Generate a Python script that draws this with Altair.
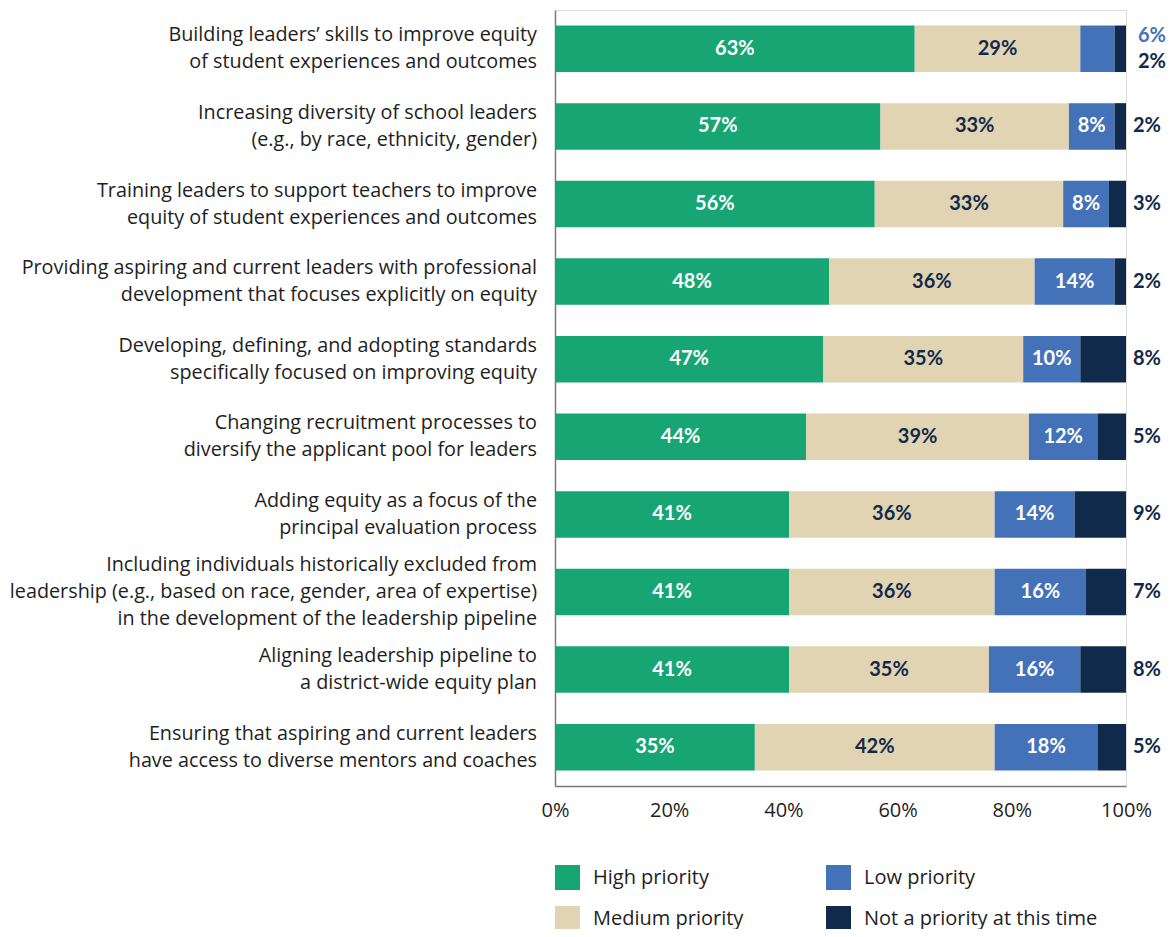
import altair as alt
import pandas as pd

NB = "\u00a0"
categories = [
    "Building leaders’ skills to improve equity|of student experiences and outcomes" + NB,
    "Increasing diversity of school leaders|(e.g., by race, ethnicity, gender)",
    "Training leaders to support teachers to improve|equity of student experiences and outcomes",
    "Providing aspiring and current leaders with professional|development that focuses explicitly on equity",
    "Developing, defining, and adopting standards|specifically focused on improving equity",
    "Changing recruitment processes to|diversify the applicant pool for leaders",
    "Adding equity as a focus of the|principal evaluation process" + NB,
    "Including individuals historically excluded from|leadership (e.g., based on race, gender, area of expertise)|in the development of the leadership pipeline",
    "Aligning leadership pipeline to|a district-wide equity plan",
    "Ensuring that aspiring and current leaders|have access to diverse mentors and coaches",
]
series = ["High priority", "Medium priority", "Low priority", "Not a priority at this time"]
high = [63, 57, 56, 48, 47, 44, 41, 41, 41, 35]
medium = [29, 33, 33, 36, 35, 39, 36, 36, 35, 42]
low = [6, 8, 8, 14, 10, 12, 14, 16, 16, 18]
notp = [2, 2, 3, 2, 8, 5, 9, 7, 8, 5]
colors = ["#17A673", "#E0D4B3", "#4472B8", "#0F2A4A"]
label_colors = ["#FFFFFF", "#13294B", "#FFFFFF", "#13294B"]

rows = []
for i, cat in enumerate(categories):
    vals = [high[i], medium[i], low[i], notp[i]]
    start = 0
    for j, s in enumerate(series):
        v = vals[j]
        rows.append({
            "cat": cat, "series": s, "order": j, "value": v,
            "start": start, "end": start + v, "mid": start + v / 2,
            "label": f"{v}%", "lcolor": label_colors[j], "row": i,
        })
        start += v
df = pd.DataFrame(rows)

cat_df = pd.DataFrame({"cat": categories,
                       "nlines": [c.count("|") + 1 for c in categories]})

FONT = "Open Sans"
VFONT = "Lato"
TXT = "#1E1E1E"
x_scale = alt.Scale(domain=[0, 100], nice=False, zero=True)
y_enc = alt.Y("cat:N", sort=categories,
              scale=alt.Scale(paddingInner=0.4, paddingOuter=0.2),
              axis=alt.Axis(title=None, ticks=False, labels=False,
                            domainColor="#7A7A7A", domainWidth=1.5))
y_plain = alt.Y("cat:N", sort=categories)

legend_domain = ["High priority", "Low priority", "Medium priority", "Not a priority at this time"]
legend_range = [colors[0], colors[2], colors[1], colors[3]]

base = alt.Chart(df)

bars = base.mark_bar(size=46.5).encode(
    x=alt.X("start:Q", scale=x_scale,
            axis=alt.Axis(title=None, labelExpr="datum.value + '%'",
                          values=[0, 20, 40, 60, 80, 100], ticks=False, grid=False,
                          labelFlush=False, labelFontSize=20, labelFont=FONT,
                          labelColor=TXT, labelPadding=14,
                          domainColor="#7A7A7A", domainWidth=1.5)),
    x2="end:Q",
    y=y_enc,
    color=alt.Color("series:N", scale=alt.Scale(domain=legend_domain, range=legend_range),
                    legend=alt.Legend(title=None, orient="none", legendX=0, legendY=855,
                                      columns=2, direction="horizontal",
                                      symbolType="square", symbolSize=625,
                                      symbolStrokeWidth=0, symbolOpacity=1,
                                      labelFontSize=20, labelFont=FONT, labelColor=TXT,
                                      labelOffset=13, labelLimit=400,
                                      rowPadding=16, columnPadding=82, padding=0)),
    order="order:Q",
)

inside = base.transform_filter(
    "datum.order < 2 || (datum.order == 2 && datum.row > 0)"
).mark_text(fontSize=20, fontWeight="bold", font=VFONT, baseline="middle", align="center").encode(
    x=alt.X("mid:Q", scale=x_scale),
    y=y_plain,
    text="label:N",
    color=alt.Color("lcolor:N", scale=None),
)

outside_navy = base.transform_filter("datum.order == 3 && datum.row > 0").mark_text(
    fontSize=20, fontWeight="bold", font=VFONT, baseline="middle", align="center", dx=21,
    color="#13294B").encode(x=alt.X("end:Q", scale=x_scale), y=y_plain, text="label:N")

outside_navy_first = base.transform_filter("datum.order == 3 && datum.row == 0").mark_text(
    fontSize=20, fontWeight="bold", font=VFONT, baseline="middle", align="center", dx=26, dy=13,
    color="#13294B").encode(x=alt.X("end:Q", scale=x_scale), y=y_plain, text="label:N")

outside_low_first = base.transform_filter("datum.order == 2 && datum.row == 0").transform_calculate(
    xr="100").mark_text(
    fontSize=20, fontWeight="bold", font=VFONT, baseline="middle", align="center", dx=26, dy=-13,
    color="#4472B8").encode(x=alt.X("xr:Q", scale=x_scale), y=y_plain, text="label:N")

ylab_layers = []
for n in [1, 2, 3]:
    ylab_layers.append(
        alt.Chart(cat_df).transform_filter(f"datum.nlines == {n}").mark_text(
            align="right", baseline="middle", lineBreak="|", lineHeight=27,
            font=FONT, fontSize=19.8, color=TXT, dx=-18, dy=-(n - 1) * 13.5,
        ).encode(x=alt.value(0), y=y_plain, text="cat:N")
    )

chart = alt.layer(bars, inside, outside_navy, outside_navy_first, outside_low_first,
                  *ylab_layers).properties(
    width=571, height=776,
    autosize=alt.AutoSizeParams(type="none"),
    padding={"left": 547, "top": 2, "right": 41, "bottom": 143},
).configure_view(stroke=None).configure(background="white")

chart.save("out.html", embed_options={"renderer": "svg", "actions": False})
